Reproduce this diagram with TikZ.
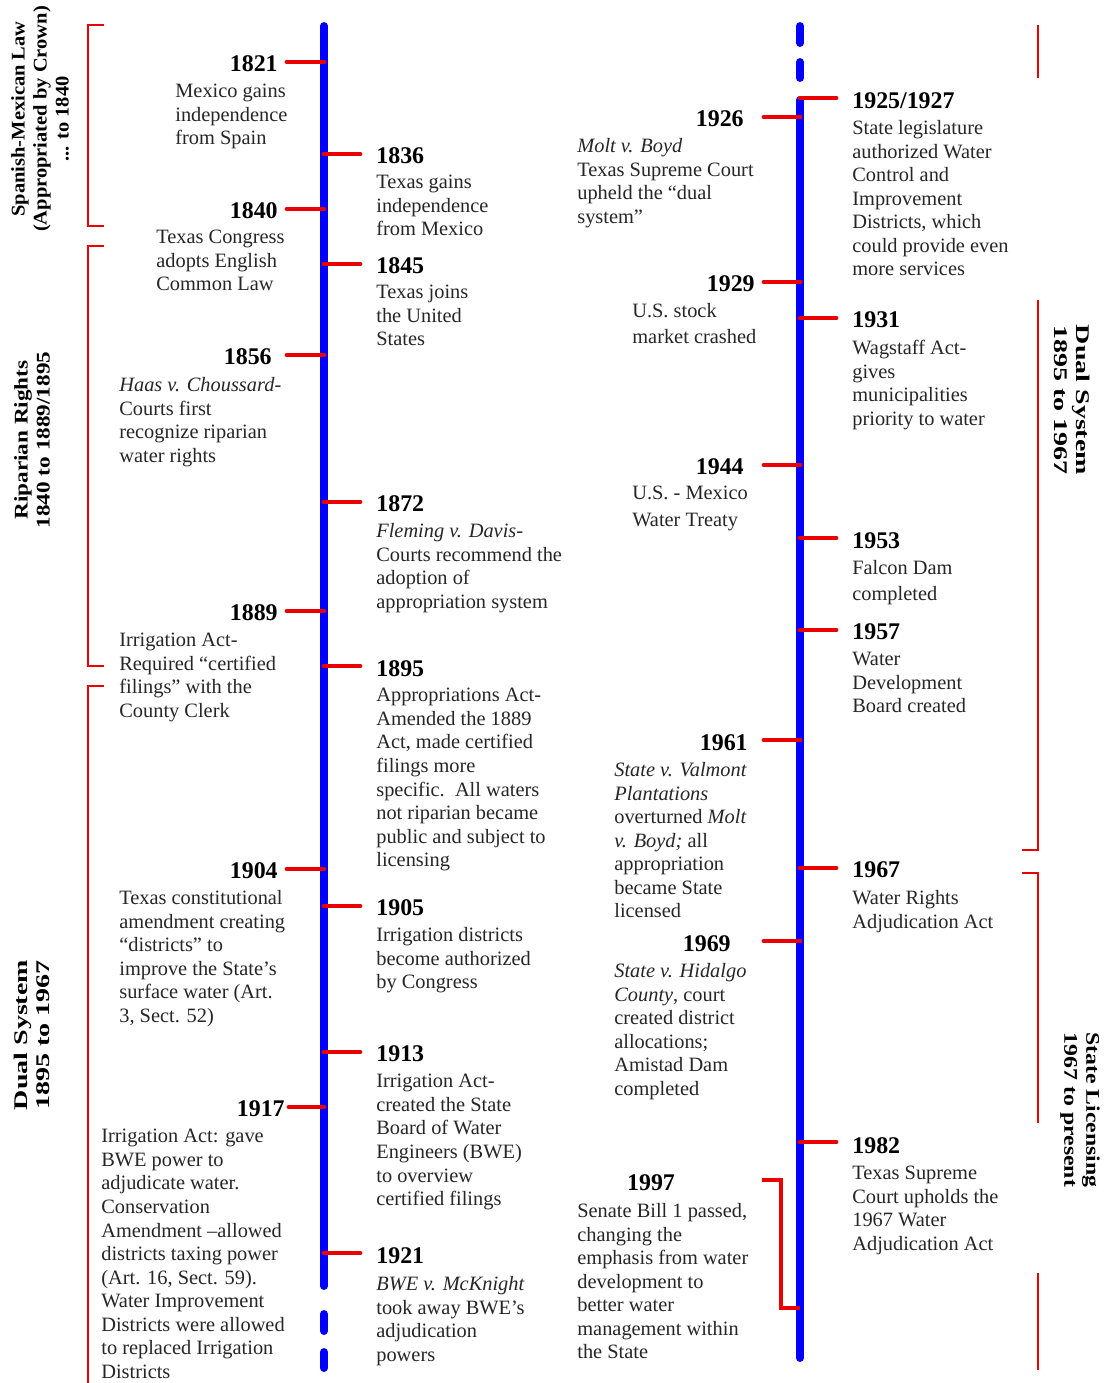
\documentclass[tikz,border=0pt]{standalone}
\usepackage{fontspec}
\setmainfont{Liberation Serif}
\usepackage{tikz}

\definecolor{lineblue}{RGB}{0,0,255}
\definecolor{tickred}{RGB}{235,0,0}

\begin{document}
\begin{tikzpicture}[x=0.02cm, y=-0.02cm,
  axis/.style={line width=4.5pt, lineblue, line cap=round},
  tick/.style={line width=2.8pt, tickred, line cap=round},
  brace/.style={line width=0.9pt, tickred},
  year/.style={font=\fontsize{13.6}{15}\selectfont\bfseries, inner sep=0pt, text=black},
  desc/.style={font=\fontsize{11.6}{13.4}\selectfont, align=left, inner sep=0pt, text=black!85, anchor=north west, yshift=-1.7pt},
  period/.style={font=\fontsize{11}{12.5}\selectfont\bfseries, align=center, inner sep=0pt, text=black}]

\fill[white] (0,0) rectangle (1107,1383);
\useasboundingbox (0,0) rectangle (1107,1383);

% period brackets, left
\draw[brace] (104,25) -- (88,25) -- (88,226) -- (104,226);
\draw[brace] (104,246) -- (88,246) -- (88,666) -- (104,666);
\draw[brace] (104,686) -- (88,686) -- (88,1383);
\node[period, rotate=90, xscale=1.06] (pSpanish) at (40,119) {Spanish-Mexican Law\\(Appropriated by Crown)\\... to 1840};
\node[period, rotate=90, xscale=1.2] (pRiparian) at (32,440) {Riparian Rights\\1840 to 1889/1895};
\node[period, rotate=90, xscale=1.45] (pDualL) at (32,1035) {Dual System\\1895 to 1967};

% period brackets, right
\draw[brace] (1038,25) -- (1038,78);
\draw[brace] (1038,300) -- (1038,850) -- (1022,850);
\draw[brace] (1022,873) -- (1038,873) -- (1038,1123);
\draw[brace] (1038,1273) -- (1038,1370);
\node[period, rotate=-90, xscale=1.45] (pDualR) at (1072,400) {Dual System\\1895 to 1967};
\node[period, rotate=-90, xscale=1.23] (pState) at (1080,1110) {State Licensing\\1967 to present};

% left time line
\coordinate (Ltop) at (324,26);
\coordinate (Lbot) at (324,1286);
\draw[axis] (Ltop) -- (Lbot);
\draw[axis] (324,1314) -- (324,1331);
\draw[axis] (324,1352) -- (324,1368);

% right time line
\coordinate (Rtop) at (800,100);
\coordinate (Rbot) at (800,1358);
\draw[axis] (800,26) -- (800,43);
\draw[axis] (800,62) -- (800,78);
\draw[axis] (Rtop) -- (Rbot);

% 1821
\coordinate (a1821) at (324,62);
\coordinate (e1821) at (287,62);
\draw[tick] (a1821) -- (e1821);
\node[year, anchor=east] (y1821) at (278,64) {1821};
\node[desc] (d1821) at (175,81) {Mexico gains\\independence\\from Spain};

% 1836
\coordinate (a1836) at (324,154);
\coordinate (e1836) at (360,154);
\draw[tick] (a1836) -- (e1836);
\node[year, anchor=west] (y1836) at (376,156) {1836};
\node[desc] (d1836) at (376,172) {Texas gains\\independence\\from Mexico};

% 1840
\coordinate (a1840) at (324,209);
\coordinate (e1840) at (287,209);
\draw[tick] (a1840) -- (e1840);
\node[year, anchor=east] (y1840) at (278,211) {1840};
\node[desc] (d1840) at (156,227) {Texas Congress\\adopts English\\Common Law};

% 1845
\coordinate (a1845) at (324,264);
\coordinate (e1845) at (360,264);
\draw[tick] (a1845) -- (e1845);
\node[year, anchor=west] (y1845) at (376,266) {1845};
\node[desc] (d1845) at (376,282) {Texas joins\\the United\\States};

% 1856
\coordinate (a1856) at (324,355);
\coordinate (e1856) at (287,355);
\draw[tick] (a1856) -- (e1856);
\node[year, anchor=east] (y1856) at (272,357) {1856};
\node[desc] (d1856) at (119,374) {\textit{Haas v. Choussard}-\\Courts first\\recognize riparian\\water rights};

% 1872
\coordinate (a1872) at (324,502);
\coordinate (e1872) at (360,502);
\draw[tick] (a1872) -- (e1872);
\node[year, anchor=west] (y1872) at (376,504) {1872};
\node[desc] (d1872) at (376,520) {\textit{Fleming v. Davis}-\\Courts recommend the\\adoption of\\appropriation system};

% 1889
\coordinate (a1889) at (324,611);
\coordinate (e1889) at (287,611);
\draw[tick] (a1889) -- (e1889);
\node[year, anchor=east] (y1889) at (278,613) {1889};
\node[desc] (d1889) at (119,630) {Irrigation Act-\\Required “certified\\filings” with the\\County Clerk};

% 1895
\coordinate (a1895) at (324,666);
\coordinate (e1895) at (360,666);
\draw[tick] (a1895) -- (e1895);
\node[year, anchor=west] (y1895) at (376,669) {1895};
\node[desc] (d1895) at (376,685) {Appropriations Act-\\Amended the 1889\\Act, made certified\\filings more\\specific.\ \ All waters\\not riparian became\\public and subject to\\licensing};

% 1904
\coordinate (a1904) at (324,869);
\coordinate (e1904) at (287,869);
\draw[tick] (a1904) -- (e1904);
\node[year, anchor=east] (y1904) at (278,871) {1904};
\node[desc] (d1904) at (119,887) {Texas constitutional\\amendment creating\\“districts” to\\improve the State’s\\surface water (Art.\\3, Sect. 52)};

% 1905
\coordinate (a1905) at (324,906);
\coordinate (e1905) at (360,906);
\draw[tick] (a1905) -- (e1905);
\node[year, anchor=west] (y1905) at (376,908) {1905};
\node[desc] (d1905) at (376,924) {Irrigation districts\\become authorized\\by Congress};

% 1913
\coordinate (a1913) at (324,1052);
\coordinate (e1913) at (360,1052);
\draw[tick] (a1913) -- (e1913);
\node[year, anchor=west] (y1913) at (376,1054) {1913};
\node[desc] (d1913) at (376,1071) {Irrigation Act-\\created the State\\Board of Water\\Engineers (BWE)\\to overview\\certified filings};

% 1917
\coordinate (a1917) at (324,1107);
\coordinate (e1917) at (289,1107);
\draw[tick] (a1917) -- (e1917);
\node[year, anchor=east] (y1917) at (285,1109) {1917};
\node[desc] (d1917) at (101,1126) {Irrigation Act: gave\\BWE power to\\adjudicate water.\\Conservation\\Amendment –allowed\\districts taxing power\\(Art. 16, Sect. 59).\\Water Improvement\\Districts were allowed\\to replaced Irrigation\\Districts};

% 1921
\coordinate (a1921) at (324,1253);
\coordinate (e1921) at (360,1253);
\draw[tick] (a1921) -- (e1921);
\node[year, anchor=west] (y1921) at (376,1256) {1921};
\node[desc] (d1921) at (376,1273) {\textit{BWE v. McKnight}\\took away BWE’s\\adjudication\\powers};

% 1925/1927
\coordinate (a1925) at (800,98);
\coordinate (e1925) at (836,98);
\draw[tick] (a1925) -- (e1925);
\node[year, anchor=west] (y1925) at (852,101) {1925/1927};
\node[desc] (d1925) at (852,117) {State legislature\\authorized Water\\Control and\\Improvement\\Districts, which\\could provide even\\more services};

% 1926
\coordinate (a1926) at (800,117);
\coordinate (e1926) at (764,117);
\draw[tick] (a1926) -- (e1926);
\node[year, anchor=east] (y1926) at (744,119) {1926};
\node[desc] (d1926) at (577,135) {\textit{Molt v. Boyd}\\Texas Supreme Court\\upheld the “dual\\system”};

% 1929
\coordinate (a1929) at (800,282);
\coordinate (e1929) at (764,282);
\draw[tick] (a1929) -- (e1929);
\node[year, anchor=east] (y1929) at (755,284) {1929};
\node[desc] (d1929) at (632,300) {U.S. stock\\[1.5pt]market crashed};

% 1931
\coordinate (a1931) at (800,318);
\coordinate (e1931) at (836,318);
\draw[tick] (a1931) -- (e1931);
\node[year, anchor=west] (y1931) at (852,320) {1931};
\node[desc] (d1931) at (852,337) {Wagstaff Act-\\gives\\municipalities\\priority to water};

% 1944
\coordinate (a1944) at (800,465);
\coordinate (e1944) at (764,465);
\draw[tick] (a1944) -- (e1944);
\node[year, anchor=east] (y1944) at (744,467) {1944};
\node[desc] (d1944) at (632,483) {U.S. - Mexico\\[1.5pt]Water Treaty};

% 1953
\coordinate (a1953) at (800,538);
\coordinate (e1953) at (836,538);
\draw[tick] (a1953) -- (e1953);
\node[year, anchor=west] (y1953) at (852,541) {1953};
\node[desc] (d1953) at (852,557) {Falcon Dam\\[1.5pt]completed};

% 1957
\coordinate (a1957) at (800,630);
\coordinate (e1957) at (836,630);
\draw[tick] (a1957) -- (e1957);
\node[year, anchor=west] (y1957) at (852,632) {1957};
\node[desc] (d1957) at (852,649) {Water\\Development\\Board created};

% 1961
\coordinate (a1961) at (800,740);
\coordinate (e1961) at (764,740);
\draw[tick] (a1961) -- (e1961);
\node[year, anchor=east] (y1961) at (748,743) {1961};
\node[desc] (d1961) at (614,759) {\textit{State v. Valmont}\\\textit{Plantations}\\overturned \textit{Molt}\\\textit{v. Boyd;} all\\appropriation\\became State\\licensed};

% 1967
\coordinate (a1967) at (800,868);
\coordinate (e1967) at (836,868);
\draw[tick] (a1967) -- (e1967);
\node[year, anchor=west] (y1967) at (852,870) {1967};
\node[desc] (d1967) at (852,887) {Water Rights\\Adjudication Act};

% 1969
\coordinate (a1969) at (800,941);
\coordinate (e1969) at (764,941);
\draw[tick] (a1969) -- (e1969);
\node[year, anchor=east] (y1969) at (731,944) {1969};
\node[desc] (d1969) at (614,960) {\textit{State v. Hidalgo}\\\textit{County}, court\\created district\\allocations;\\Amistad Dam\\completed};

% 1982
\coordinate (a1982) at (800,1142);
\coordinate (e1982) at (836,1142);
\draw[tick] (a1982) -- (e1982);
\node[year, anchor=west] (y1982) at (852,1146) {1982};
\node[desc] (d1982) at (852,1163) {Texas Supreme\\Court upholds the\\1967 Water\\Adjudication Act};

% 1997
\coordinate (a1997) at (800,1308);
\coordinate (e1997) at (762,1180);
\draw[tick, line cap=butt] (e1997) -- (781,1180) -- (781,1308) -- (a1997);
\node[year] (y1997) at (651,1183) {1997};
\node[desc] (d1997) at (577,1200) {Senate Bill 1 passed,\\changing the\\emphasis from water\\development to\\better water\\management within\\the State};

\end{tikzpicture}
\end{document}
